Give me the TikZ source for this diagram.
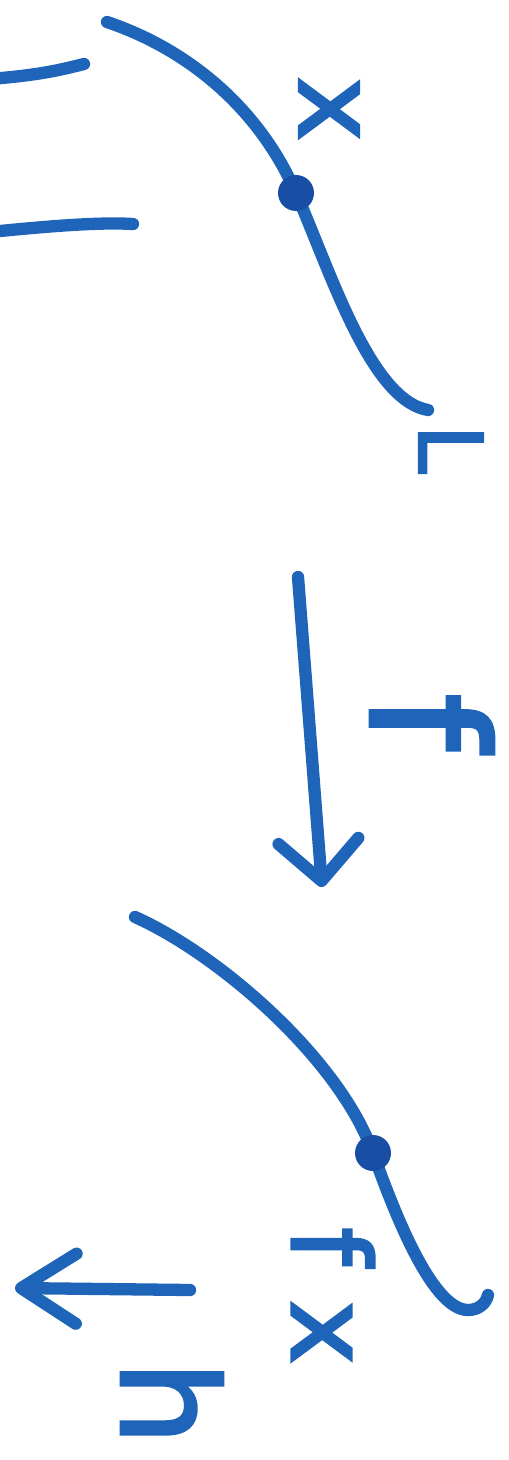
\documentclass[tikz,border=0pt]{standalone}
\usepackage{fontspec}
\usepackage{tikz}
\usetikzlibrary{arrows.meta,positioning}
\newfontfamily\hand{DejaVu Sans}[FakeBold=2.5]
\definecolor{ink}{RGB}{30,100,185}
\definecolor{inkdark}{RGB}{25,78,165}

\begin{document}
\begin{tikzpicture}[
    x=0.02cm, y=-0.02cm,
    pen/.style={draw=ink, line width=7pt, line cap=round, line join=round},
    dot/.style={circle, fill=inkdark, inner sep=0pt, minimum size=0.72cm},
    lbl/.style={text=ink, rotate=-90, inner sep=0pt, font=\hand\fontsize{62}{62}\selectfont},
    arr/.style={pen, -{Straight Barb[length=0.8cm, width=1.6cm, round]}},
]
\useasboundingbox (0,0) rectangle (509,1460);

% strokes cut by the left edge
\draw[pen] (-10,79) .. controls (40,75) and (60,70) .. (84,64);
\draw[pen] (-10,232) .. controls (50,226) and (100,222) .. (133,224);

% upper curve
\draw[pen] (107,22) .. controls (190,50) and (260,110) .. (296,193)
    .. controls (330,270) and (370,400) .. (428,410);
\node[dot] (px) at (296,193) {};
\node[lbl] (xlbl) at (329,109) {x};
\node[lbl, font=\hand\fontsize{50}{50}\selectfont] (Llbl) at (451,449) {L};

% the map
\coordinate (ftail) at (298,577);
\coordinate (fhead) at (322,887);
\draw[arr] (ftail) -- (fhead);
\node[lbl, font=\hand\fontsize{92}{92}\selectfont] (flbl) at (432,722) {f};

% lower curve
\draw[pen] (135,917) .. controls (220,955) and (340,1060) .. (373,1153)
    .. controls (390,1200) and (430,1310) .. (468,1310)
    .. controls (478,1310) and (486,1304) .. (488,1295);
\node[dot] (pfx) at (373,1153) {};
\node[lbl] (fxlbl) at (333,1296) {f x};

% vector
\coordinate (htail) at (190,1290);
\coordinate (hhead) at (15,1288);
\draw[arr, -{Straight Barb[length=1.1cm, width=1.4cm, round]}] (htail) -- (hhead);
\node[lbl, font=\hand\fontsize{76}{76}\selectfont] (hlbl) at (172,1403) {h};
\end{tikzpicture}
\end{document}
